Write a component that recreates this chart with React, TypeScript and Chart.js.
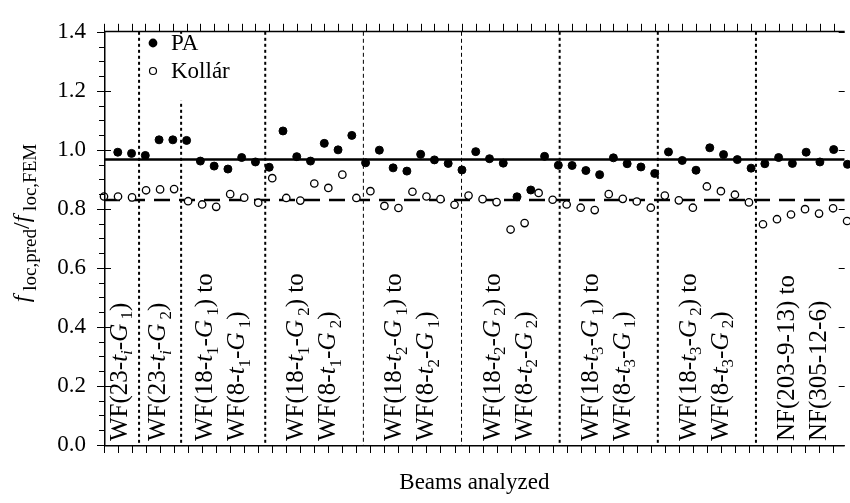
import React, { useEffect, useRef } from 'react';
import { Chart, registerables } from 'chart.js';

Chart.register(...registerables);

const FONT = '"Liberation Serif", "Times New Roman", serif';

// ---- data ----
const beamIds = Array.from({ length: 54 }, (_, i) => i + 1);

const paRatios = [
  0.992, 0.988, 0.981, 1.034, 1.034, 1.032, 0.962, 0.945, 0.935, 0.974,
  0.959, 0.941, 1.064, 0.977, 0.962, 1.022, 1.0, 1.049, 0.956, 0.999,
  0.939, 0.928, 0.985, 0.966, 0.954, 0.932, 0.994, 0.97, 0.955, 0.841,
  0.864, 0.978, 0.948, 0.947, 0.93, 0.916, 0.973, 0.953, 0.942, 0.92,
  0.993, 0.964, 0.931, 1.007, 0.984, 0.967, 0.938, 0.953, 0.974, 0.954,
  0.992, 0.959, 1.001, 0.951,
];

const kollarRatios = [
  0.842, 0.842, 0.839, 0.863, 0.866, 0.867, 0.826, 0.815, 0.807, 0.85,
  0.838, 0.821, 0.904, 0.837, 0.828, 0.886, 0.871, 0.916, 0.837, 0.86,
  0.81, 0.803, 0.858, 0.842, 0.833, 0.814, 0.845, 0.833, 0.823, 0.73,
  0.752, 0.854, 0.831, 0.815, 0.804, 0.796, 0.85, 0.834, 0.825, 0.804,
  0.845, 0.829, 0.804, 0.876, 0.86, 0.848, 0.822, 0.748, 0.765, 0.781,
  0.799, 0.784, 0.802, 0.759,
];

const paMeanRatio = 0.967;
const kollarMeanRatio = 0.83;

const yTickValues = [0, 0.2, 0.4, 0.6, 0.8, 1.0, 1.2, 1.4];

// group boundaries (in beam numbers) and their labels
const groupEdges = [0.5, 3.5, 6.5, 12.5, 19.5, 26.5, 33.5, 40.5, 47.5, 54.5];
const fineDividers = [19.5, 26.5];
const groupLabels: string[][] = [
  ['WF(23-$t$_{$i$}-$G$_{ 1})'],
  ['WF(23-$t$_{$i$}-$G$_{ 2})'],
  ['WF(18-$t$_{1}-$G$_{ 1}) to', 'WF(8-$t$_{1}-$G$_{ 1})'],
  ['WF(18-$t$_{1}-$G$_{ 2}) to', 'WF(8-$t$_{1}-$G$_{ 2})'],
  ['WF(18-$t$_{2}-$G$_{ 1}) to', 'WF(8-$t$_{2}-$G$_{ 1})'],
  ['WF(18-$t$_{2}-$G$_{ 2}) to', 'WF(8-$t$_{2}-$G$_{ 2})'],
  ['WF(18-$t$_{3}-$G$_{ 1}) to', 'WF(8-$t$_{3}-$G$_{ 1})'],
  ['WF(18-$t$_{3}-$G$_{ 2}) to', 'WF(8-$t$_{3}-$G$_{ 2})'],
  ['NF(203-9-13) to', 'NF(305-12-6)'],
];

const legendNames = ['PA', 'Kollár'];
const xTitle = 'Beams analyzed';
const yTitle = '$f$_{ loc,pred}/$f$_{ loc,FEM}';

// axis ranges
const X_MIN = 1;
const X_MAX = 53.83;
const X2_MIN = 0;
const X2_MAX = 53.8;

// ---- rich text helpers ----
type Seg = { text: string; italic: boolean; sub: boolean };
function parseRich(s: string): Seg[] {
  const segs: Seg[] = [];
  let italic = false;
  let sub = false;
  let buf = '';
  const flush = () => {
    if (buf) segs.push({ text: buf, italic, sub });
    buf = '';
  };
  for (let i = 0; i < s.length; i++) {
    const c = s[i];
    if (c === '$') {
      flush();
      italic = !italic;
    } else if (c === '_' && s[i + 1] === '{') {
      flush();
      sub = true;
      i++;
    } else if (c === '}' && sub) {
      flush();
      sub = false;
    } else buf += c;
  }
  flush();
  return segs;
}

function drawRich(
  ctx: CanvasRenderingContext2D,
  s: string,
  x: number,
  y: number,
  size: number,
  subSize: number,
  shift: number,
  draw = true
): number {
  let cx = x;
  for (const seg of parseRich(s)) {
    const fs = seg.sub ? subSize : size;
    ctx.font = `${seg.italic ? 'italic ' : ''}${fs}px ${FONT}`;
    if (draw) ctx.fillText(seg.text, cx, y + (seg.sub ? shift : 0));
    cx += ctx.measureText(seg.text).width;
  }
  return cx - x;
}

const decorPlugin = {
  id: 'decor',
  beforeDatasetsDraw(chart: any) {
    const { ctx, chartArea: a, scales } = chart;
    const x = scales.x;
    ctx.save();
    ctx.strokeStyle = '#000';
    groupEdges.slice(1, -1).forEach((v) => {
      const px = x.getPixelForValue(v);
      const fine = fineDividers.includes(v);
      ctx.lineWidth = fine ? 1 : 2;
      ctx.setLineDash(fine ? [4, 3] : [3, 3]);
      ctx.beginPath();
      ctx.moveTo(px, a.top);
      ctx.lineTo(px, a.bottom);
      ctx.stroke();
    });
    ctx.restore();
  },
  afterDatasetsDraw(chart: any) {
    const { ctx, chartArea: a, scales } = chart;
    const x = scales.x;
    const x2 = scales.x2;
    const y = scales.y;
    ctx.save();
    ctx.strokeStyle = '#000';
    ctx.fillStyle = '#000';
    ctx.setLineDash([]);

    // ---- spines ----
    ctx.lineWidth = 1.5;
    ctx.beginPath();
    ctx.moveTo(a.left + 0.75, a.top);
    ctx.lineTo(a.left + 0.75, a.bottom + 1.5);
    ctx.moveTo(a.left, a.bottom + 0.75);
    ctx.lineTo(a.right, a.bottom + 0.75);
    ctx.moveTo(a.left, a.top - 0.25);
    ctx.lineTo(a.right, a.top - 0.25);
    ctx.stroke();

    // ---- x ticks (bottom, beams) ----
    ctx.lineWidth = 1;
    ctx.beginPath();
    for (let v = Math.ceil(X_MIN); v <= X_MAX; v++) {
      const px = Math.round(x.getPixelForValue(v)) + 0.5;
      ctx.moveTo(px, a.bottom);
      ctx.lineTo(px, a.bottom + 8);
    }
    // top ticks
    for (let v = Math.ceil(X2_MIN); v <= X2_MAX; v++) {
      const px = Math.round(x2.getPixelForValue(v)) + 0.5;
      ctx.moveTo(px, a.top);
      ctx.lineTo(px, a.top - 8);
    }
    // y ticks
    yTickValues.forEach((v) => {
      const py = Math.round(y.getPixelForValue(v)) + 0.5;
      ctx.moveTo(a.left - 7, py);
      ctx.lineTo(a.left + (v === yTickValues[yTickValues.length - 1] || v === 0 ? 0 : 7), py);
      ctx.moveTo(a.right - 6, py);
      ctx.lineTo(a.right, py);
    });
    for (let k = 0; k <= 28; k++) {
      const v = k * 0.05;
      if (k % 4 === 0) continue;
      const py = Math.round(y.getPixelForValue(v)) + 0.5;
      ctx.moveTo(a.left - 5, py);
      ctx.lineTo(a.left, py);
    }
    ctx.stroke();

    // ---- group labels (rotated) ----
    ctx.textAlign = 'left';
    ctx.textBaseline = 'alphabetic';
    groupLabels.forEach((lines, g) => {
      const p0 = Math.max(x.getPixelForValue(groupEdges[g]), a.left);
      const p1 = x.getPixelForValue(groupEdges[g + 1]);
      const c = (p0 + p1) / 2;
      lines.forEach((line, k) => {
        const bx = c + 5 + (k - (lines.length - 1) / 2) * 32;
        ctx.save();
        ctx.translate(bx, a.bottom - 4);
        ctx.rotate(-Math.PI / 2);
        drawRich(ctx, line, 0, 0, 25, 17, 5.5);
        ctx.restore();
      });
    });

    // ---- legend ----
    ctx.fillStyle = '#fff';
    ctx.fillRect(a.left + 37, a.top + 2, 120, 67);
    ctx.fillStyle = '#000';
    const lx = a.left + 49;
    ctx.beginPath();
    ctx.arc(lx, 43, 4.4, 0, Math.PI * 2);
    ctx.fill();
    ctx.lineWidth = 1.2;
    ctx.beginPath();
    ctx.arc(lx, 71, 3.5, 0, Math.PI * 2);
    ctx.stroke();
    ctx.font = `23px ${FONT}`;
    ctx.textBaseline = 'middle';
    ctx.fillText(legendNames[0], a.left + 67, 44);
    ctx.fillText(legendNames[1], a.left + 67, 72);

    // ---- axis titles ----
    ctx.textAlign = 'center';
    ctx.fillText(xTitle, (a.left + a.right) / 2, 483);

    ctx.textAlign = 'left';
    ctx.textBaseline = 'alphabetic';
    const w = drawRich(ctx, yTitle, 0, 0, 24, 19, 6.5, false);
    ctx.save();
    ctx.translate(29, 223);
    ctx.rotate(-Math.PI / 2);
    drawRich(ctx, yTitle, -w / 2, 0, 24, 19, 6.5);
    ctx.restore();

    ctx.restore();
  },
};

export default function App() {
  const ref = useRef<HTMLCanvasElement>(null);
  useEffect(() => {
    const canvas = ref.current!;
    const chart = new Chart(canvas, {
      type: 'scatter',
      data: {
        datasets: [
          {
            label: legendNames[1],
            data: beamIds.map((b, i) => ({ x: b, y: kollarRatios[i] })),
            xAxisID: 'x',
            pointRadius: 3.7,
            pointBorderWidth: 1.3,
            pointBorderColor: '#000',
            pointBackgroundColor: '#fff',
            order: 0,
            clip: false,
          } as any,
          {
            label: legendNames[0],
            data: beamIds.map((b, i) => ({ x: b, y: paRatios[i] })),
            xAxisID: 'x2',
            pointRadius: 4,
            pointBorderWidth: 1,
            pointBorderColor: '#000',
            pointBackgroundColor: '#000',
            order: 1,
            clip: false,
          } as any,
          {
            label: 'PA mean',
            data: [
              { x: X_MIN, y: paMeanRatio },
              { x: X_MAX, y: paMeanRatio },
            ],
            xAxisID: 'x',
            showLine: true,
            pointRadius: 0,
            borderColor: '#000',
            borderWidth: 2.5,
            order: 2,
          } as any,
          {
            label: 'Kollár mean',
            data: [
              { x: X_MIN, y: kollarMeanRatio },
              { x: X_MAX, y: kollarMeanRatio },
            ],
            xAxisID: 'x',
            showLine: true,
            pointRadius: 0,
            borderColor: '#000',
            borderWidth: 2.5,
            borderDash: [16, 9],
            order: 2,
          } as any,
        ],
      },
      options: {
        responsive: false,
        animation: false,
        devicePixelRatio: 1,
        events: [],
        layout: { padding: { top: 19, right: 0, left: 0, bottom: 0 } },
        plugins: { legend: { display: false }, tooltip: { enabled: false } },
        scales: {
          x: {
            type: 'linear',
            position: 'bottom',
            min: X_MIN,
            max: X_MAX,
            ticks: { display: false, stepSize: 1 },
            grid: { display: false, drawTicks: false },
            border: { display: false },
            afterFit: (s: any) => {
              s.height = 58;
            },
          },
          x2: {
            type: 'linear',
            position: 'top',
            display: false,
            min: X2_MIN,
            max: X2_MAX,
          },
          y: {
            type: 'linear',
            min: 0,
            max: 1.4,
            ticks: {
              stepSize: 0.2,
              callback: (v: any) => Number(v).toFixed(1),
              font: { family: FONT, size: 23 },
              color: '#000',
              padding: 18,
            },
            grid: { display: false, drawTicks: false },
            border: { display: false },
            afterFit: (s: any) => {
              s.width = 104;
            },
          },
        } as any,
      },
      plugins: [decorPlugin],
    });
    return () => chart.destroy();
  }, []);

  return (
    <div style={{ position: 'fixed', left: 0, top: 0, width: 850, height: 503, background: '#fff' }}>
      <canvas ref={ref} width={850} height={503} style={{ display: 'block' }} />
    </div>
  );
}
